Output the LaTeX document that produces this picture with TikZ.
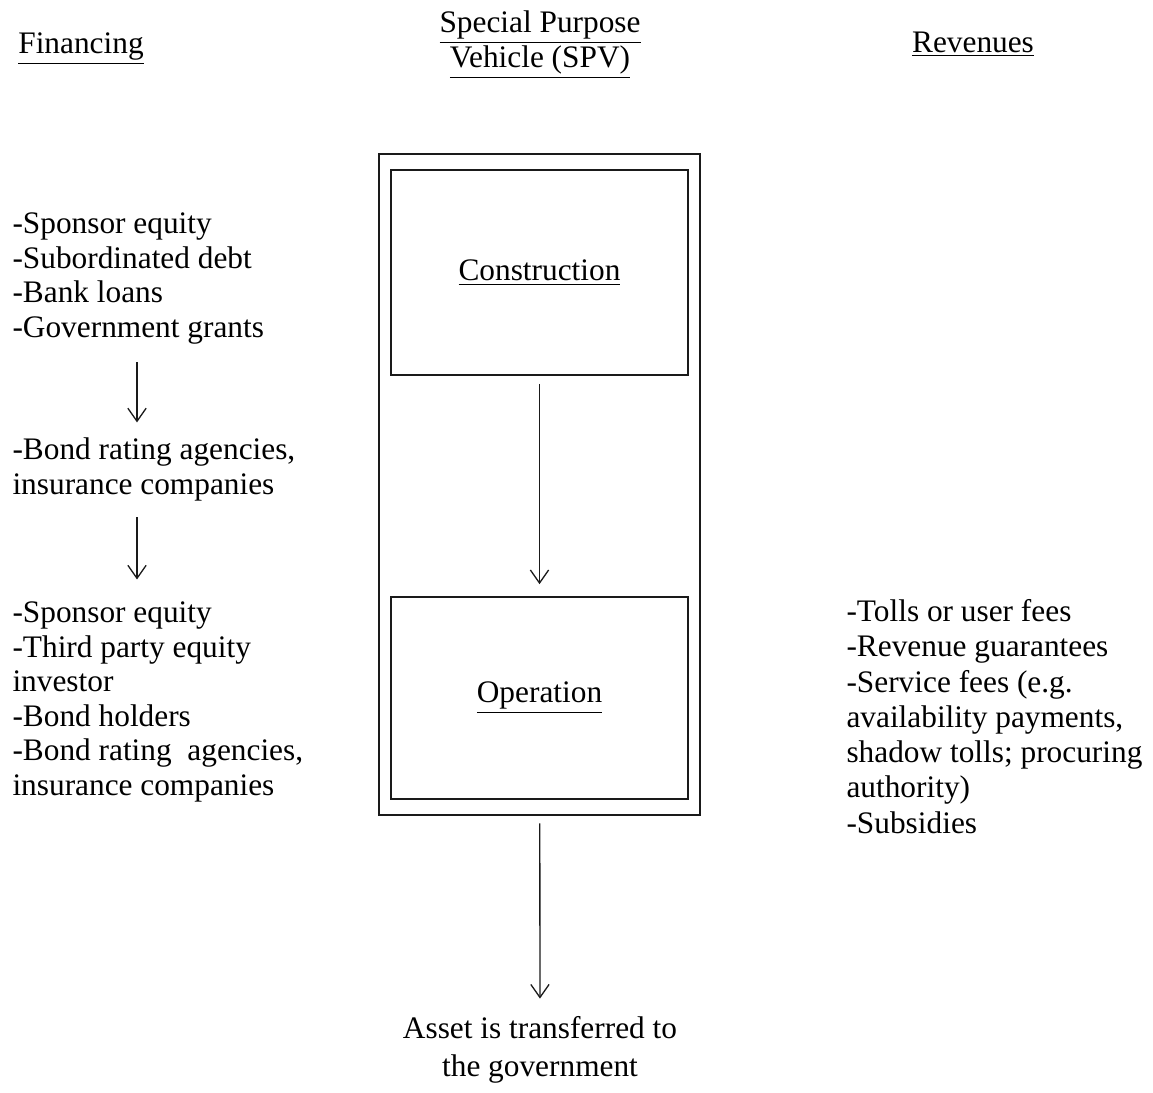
\documentclass[tikz,border=0pt]{standalone}
\usepackage{fontspec}
\setmainfont{Liberation Serif}
\usetikzlibrary{arrows.meta,positioning,fit}
\definecolor{ink}{HTML}{1A1A1A}

\begin{document}
\begin{tikzpicture}[x=0.383pt,y=-0.383pt,
  font=\fontsize{12}{13.2}\selectfont,>={Straight Barb[length=5pt,width=7pt]},
  every node/.style={inner sep=0pt},
  txt/.style={align=left,anchor=base west},
  head/.style={align=center,anchor=base},
  stage/.style={draw=ink,line width=0.8pt,minimum width=113.7pt,minimum height=78.5pt},
  arr/.style={->,draw=ink,line width=0.5pt}]
\useasboundingbox (0,0) rectangle (1153,1092);
% --- headings (base = last line)
\node[head] (fin) at (81,53) {\underline{Financing}};
\node[head] (spvh) at (540,67) {\underline{Special Purpose}\\\underline{Vehicle (SPV)}};
\node[head] (rev) at (973,52) {\underline{Revenues}};
% --- SPV
\node[stage] (cons) at (539.5,272.5) {\underline{Construction}};
\node[stage,minimum height=77.4pt] (oper) at (539.5,698) {\underline{Operation}};
\node[draw=ink,line width=0.8pt,fit=(cons)(oper),inner xsep=4.2pt,inner ysep=5.8pt] (spv) {};
\draw[arr,shorten <=3pt,shorten >=4.5pt] (cons) -- (oper);
\node[head] (asset) at (540,1076) {Asset is transferred to\\[1.3pt]the government};
\draw[arr,shorten <=2.7pt,shorten >=6.5pt] (spv) -- (asset);
% --- financing
\coordinate (arrx) at (137,0);
\node[txt] (fin1) at (12,337) {-Sponsor equity\\-Subordinated debt\\-Bank loans\\-Government grants};
\node[txt] (fin2) at (12,494) {-Bond rating agencies,\\insurance companies};
\node[txt] (fin3) at (12,795) {-Sponsor equity\\-Third party equity\\investor\\-Bond holders\\-Bond rating\ \ agencies,\\insurance companies};
\draw[arr,shorten <=6.9pt,shorten >=5.7pt] (fin1.south -| arrx) -- (fin2.north -| arrx);
\draw[arr,shorten <=6.1pt,shorten >=8.4pt] (fin2.south -| arrx) -- (fin3.north -| arrx);
% --- revenues
\node[txt,font=\fontsize{12}{13.5}\selectfont] (rev1) at (846,833) {-Tolls or user fees\\-Revenue guarantees\\-Service fees (e.g.\\availability payments,\\shadow tolls; procuring\\authority)\\-Subsidies};
\end{tikzpicture}
\end{document}
